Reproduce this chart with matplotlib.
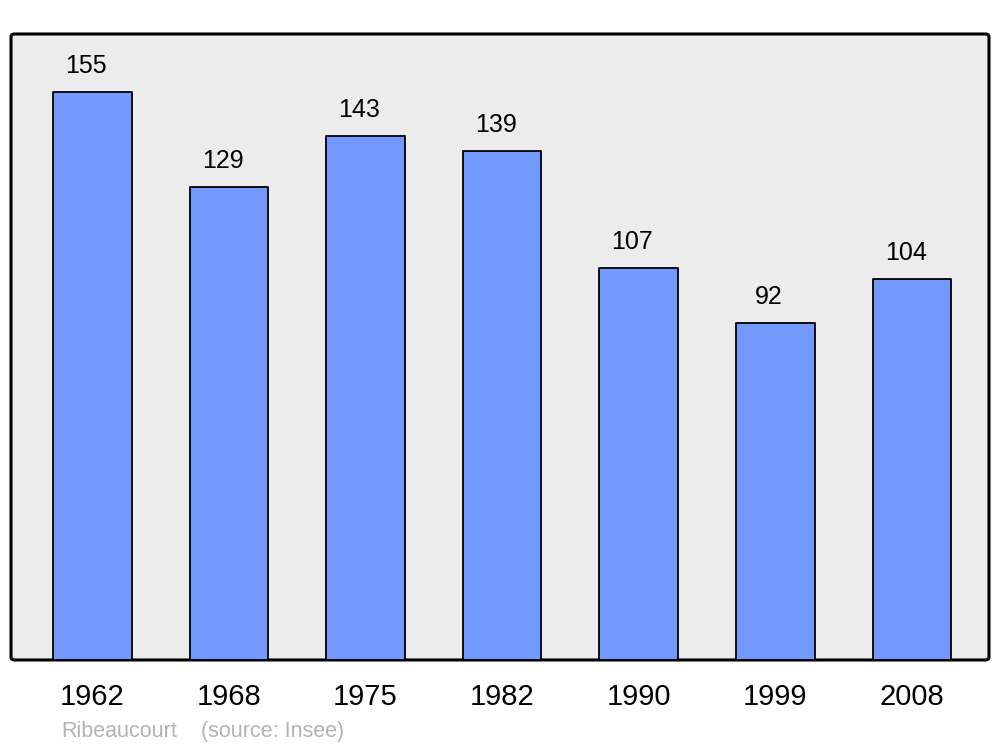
import matplotlib
matplotlib.use('Agg')
from matplotlib import pyplot as plt
from matplotlib.patches import FancyBboxPatch
import numpy as np

years = ['1962', '1968', '1975', '1982', '1990', '1999', '2008']
population = [155, 129, 143, 139, 107, 92, 104]
commune = 'Ribeaucourt'
source = '(source: Insee)'

plt.rcParams['font.family'] = ['Liberation Sans', 'DejaVu Sans']

fig = plt.figure(figsize=(10, 7.47), dpi=100)
ax = fig.add_axes([0.011, 0.1165, 0.978, 0.838])
ax.set_facecolor('none')

# fond gris avec coins arrondis
frame = FancyBboxPatch((0, 0), 1, 1, boxstyle='round,pad=0,rounding_size=0.004',
                       transform=ax.transAxes, facecolor='#ececec', edgecolor='black',
                       linewidth=2.2, zorder=0, clip_on=False)
ax.add_patch(frame)

x = np.arange(len(years))
bars = ax.bar(x, population, width=0.575, color='#7399ff', edgecolor='black',
              linewidth=1.3, zorder=2)
for b in bars:
    b.set_joinstyle('round')

for xi, v in zip(x, population):
    ax.annotate(str(v), (xi, v), xytext=(-4.5, 18.5), textcoords='offset points',
                ha='center', va='center', fontsize=18)

ax.set_xlim(-0.595, 6.565)
ax.set_ylim(0, 170.8)
for s in ax.spines.values():
    s.set_visible(False)
ax.set_yticks([])
ax.set_xticks(x)
ax.set_xticklabels(years, fontsize=21)
ax.tick_params(axis='x', length=0, pad=16.5)

fig.text(0.061, 0.0135, commune, color='#b3b3b3', fontsize=15.5, ha='left', va='baseline')
fig.text(0.201, 0.0135, source, color='#b3b3b3', fontsize=15.5, ha='left', va='baseline')

plt.savefig('out.png', dpi=100)
